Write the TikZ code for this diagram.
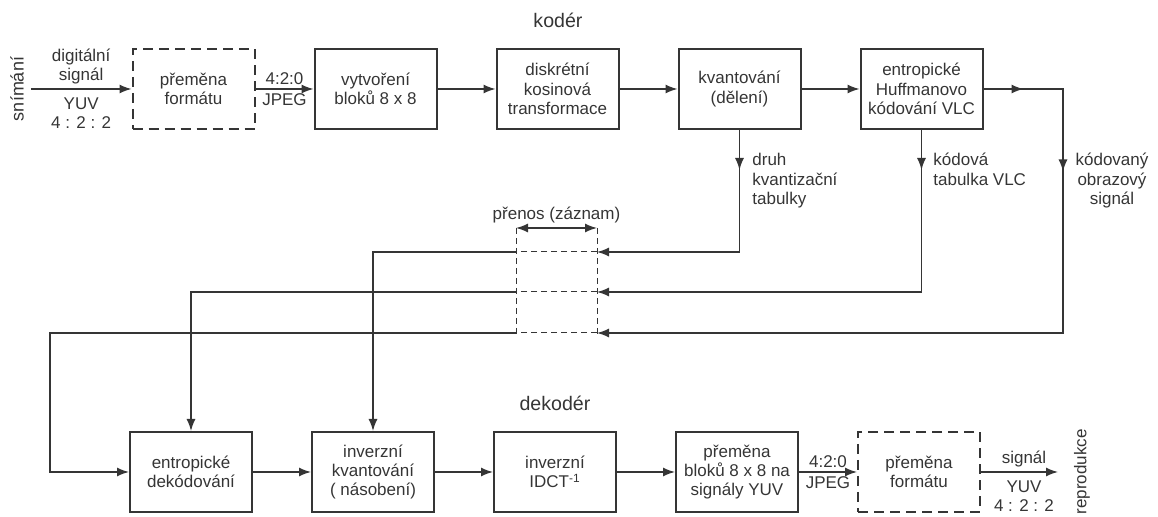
\documentclass[tikz,border=0pt]{standalone}
\usepackage{fontspec}
\setmainfont{Liberation Sans}
\usetikzlibrary{arrows.meta,positioning,decorations.markings}
\definecolor{tus}{HTML}{353535}

\tikzset{
  blok/.style={draw,line width=1pt,minimum width=61pt,minimum height=40pt,align=center,inner sep=2pt},
  blokc/.style={blok,dash pattern=on 5pt off 3pt},
  sip/.style={line width=0.7pt,-{Latex[length=6pt,width=4.5pt]}},
  dvojsip/.style={line width=0.7pt,{Latex[length=6pt,width=4.5pt]}-{Latex[length=6pt,width=4.5pt]}},
  prerus/.style={line width=0.5pt,dash pattern=on 3pt off 2pt},
  znacka/.style={postaction={decorate,decoration={markings,mark=at position #1 with {\arrow{Latex[length=6pt,width=4.5pt]}}}}},
  popis/.style={align=center,inner sep=2pt},
  nadpis/.style={font=\fontsize{9.8}{11}\selectfont},
}

\begin{document}
\begin{tikzpicture}[x=0.5pt,y=-0.5pt,color=tus,font=\fontsize{8.5}{9.7}\selectfont,node distance=29pt]
\useasboundingbox (0,0) rectangle (1158,517);

% koder
\node[nadpis] (kodt) at (558,20) {kodér};
\node[rotate=90,font=\fontsize{9}{10}\selectfont] (sn) at (17,89) {snímání};
\node[blokc] (pf1) at (193.5,89) {přeměna\\formátu};
\node[blok,right=of pf1] (vb) {vytvoření\\bloků 8 x 8};
\node[blok,right=of vb] (dkt) {diskrétní\\kosinová\\transformace};
\node[blok,right=of dkt] (kv) {kvantování\\(dělení)};
\node[blok,right=of kv] (hu) {entropické\\Huffmanovo\\kódování VLC};

\draw[sip] (sn.south) -- node[above,popis]{digitální\\signál} node[below=2pt,popis]{YUV\\4 : 2 : 2} (pf1);
\draw[sip] (pf1) -- node[above,popis]{4:2:0} node[below,popis]{JPEG} (vb);
\draw[sip] (vb) -- (dkt);
\draw[sip] (dkt) -- (kv);
\draw[sip] (kv) -- (hu);

\node[anchor=north west,align=left,inner sep=0pt] (druh) at (752,153) {druh\\kvantizační\\tabulky};
\node[anchor=north west,align=left,inner sep=0pt] (kodova) at (933,153) {kódová\\tabulka VLC};
\node[anchor=north,align=center,inner sep=0pt] (kodsig) at (1112,153) {kódovaný\\obrazový\\signál};

% prenos (zaznam)
\coordinate (tl) at (516,228);
\coordinate (tr) at (597,228);
\coordinate (bl) at (516,337);
\coordinate (br) at (597,337);
\coordinate (l1) at (516,252);
\coordinate (r1) at (597,252);
\coordinate (l2) at (516,292);
\coordinate (r2) at (597,292);
\coordinate (l3) at (516,333);
\coordinate (r3) at (597,333);
\coordinate (roh) at (1063,89);
\coordinate (lroh) at (50,333);

\draw[dvojsip] (tl) -- node[above,inner sep=2pt] (pz) {přenos (záznam)} (tr);
\draw[prerus] (tl) -- (bl);
\draw[prerus] (tr) -- (br);
\draw[prerus] (r1) -- (l1);
\draw[prerus] (r2) -- (l2);
\draw[prerus] (r3) -- (l3);

\draw[sip,znacka=20pt] (kv.south) |- (r1);
\draw[sip,znacka=20pt] (hu.south) |- (r2);
\draw[sip,znacka=20pt,znacka=81pt] (hu.east) -- (roh) |- (r3);

% dekoder
\node[nadpis] (dekt) at (555,403) {dekodér};
\node[blok] (ed) at (191,472) {entropické\\dekódování};
\node[blok,right=of ed] (ik) {inverzní\\kvantování\\( násobení)};
\node[blok,right=of ik] (idct) {inverzní\\IDCT\textsuperscript{-1}};
\node[blok,right=of idct] (pb) {přeměna\\bloků 8 x 8 na\\signály YUV};
\node[blokc,right=of pb] (pf2) {přeměna\\formátu};
\node[rotate=90] (rp) at (1082,472) {reprodukce};

\draw[sip] (l1) -| (ik.north);
\draw[sip] (l2) -| (ed.north);
\draw[sip] (l3) -- (lroh) |- (ed.west);

\draw[sip] (ed) -- (ik);
\draw[sip] (ik) -- (idct);
\draw[sip] (idct) -- (pb);
\draw[sip] (pb) -- node[above,popis]{4:2:0} node[below,popis]{JPEG} (pf2);
\draw[sip,shorten >=4.5pt] (pf2) -- node[above,popis]{signál} node[below=2pt,popis]{YUV\\4 : 2 : 2} (rp.north);
\end{tikzpicture}
\end{document}
